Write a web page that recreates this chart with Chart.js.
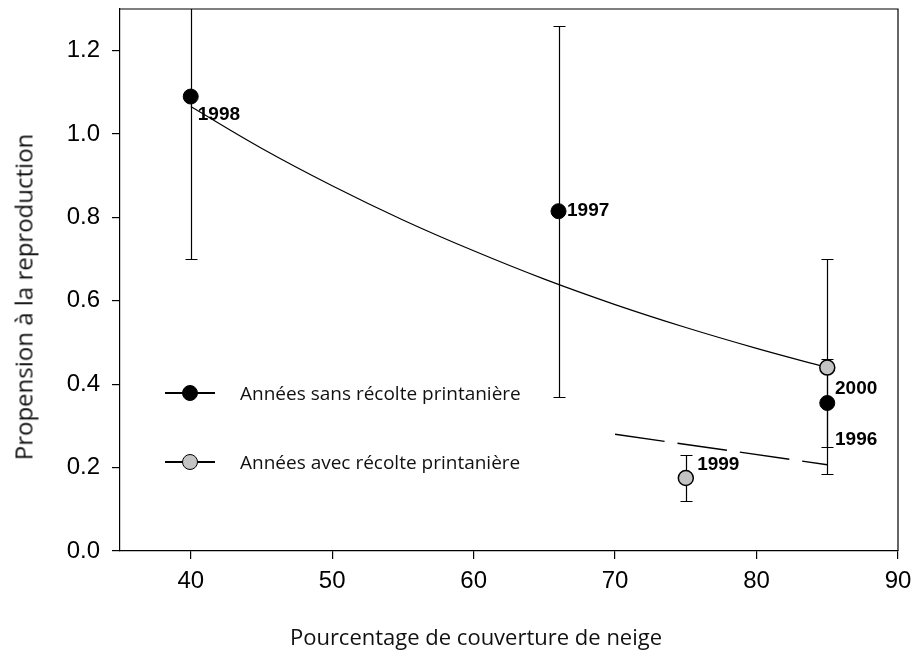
<!DOCTYPE html>
<html><head><meta charset="utf-8">
<script src="https://cdn.jsdelivr.net/npm/chart.js@4"></script>
<style>
html,body{margin:0;padding:0;background:#fff;}
#wrap{position:relative;width:914px;height:653px;overflow:hidden;}
#c{position:absolute;left:0;top:0;}
.ttl{position:absolute;font-family:"Open Sans",sans-serif;color:#111;white-space:nowrap;}
#xt{left:476px;top:636px;font-size:22px;transform:translate(-50%,-50%);}
#yt{left:23px;top:297px;font-size:24px;transform:translate(-50%,-50%) rotate(-90deg);}
.lg{position:absolute;left:165px;height:20px;display:flex;align-items:center;font-family:"Open Sans",sans-serif;font-size:19px;color:#111;white-space:nowrap;}
.sym{position:relative;width:50px;height:20px;margin-right:25px;}
.sym .ln{position:absolute;left:0;right:0;top:9px;height:1.5px;background:#000;}
.sym .dot{position:absolute;left:17px;top:2px;width:16px;height:16px;border-radius:50%;box-sizing:border-box;}
</style></head>
<body>
<div id="wrap">
<canvas id="c" width="914" height="653"></canvas>
<div class="ttl" id="xt">Pourcentage de couverture de neige</div>
<div class="ttl" id="yt">Propension à la reproduction</div>
<div class="lg" style="top:383px"><div class="sym"><div class="ln"></div><div class="dot" style="background:#000;border:1.5px solid #000"></div></div><span>Années sans récolte printanière</span></div>
<div class="lg" style="top:452px"><div class="sym"><div class="ln"></div><div class="dot" style="background:#c4c4c4;border:1.5px solid #000"></div></div><span>Années avec récolte printanière</span></div>
</div>
<script>
// Data
const xTicks = [40, 50, 60, 70, 80, 90];
const yTicks = [0.0, 0.2, 0.4, 0.6, 0.8, 1.0, 1.2];

const sansX = [40, 66, 85];
const sansY = [1.09, 0.815, 0.355];
const avecX = [75, 85];
const avecY = [0.175, 0.44];

const errX  = [40, 66, 85, 75, 85];
const errLo = [0.70, 0.37, 0.25, 0.12, 0.185];
const errHi = [1.48, 1.26, 0.46, 0.23, 0.70];

const fitX = [40, 45, 50, 55, 60, 65, 70, 75, 80, 85];
const fitY = [1.066, 0.966, 0.876, 0.794, 0.720, 0.652, 0.591, 0.536, 0.486, 0.440];
const dashX = [70, 85];
const dashY = [0.28, 0.207];

const yearText = ['1998', '1997', '2000', '1996', '1999'];
const yearX = [40.5, 66.6, 85.55, 85.55, 75.8];
const yearY = [1.047, 0.817, 0.39, 0.266, 0.208];

const pts = (xs, ys) => xs.map((v, i) => ({x: v, y: ys[i]}));

const errPlugin = {
  id: 'errbars',
  beforeDatasetsDraw(chart) {
    const {ctx, chartArea: a, scales: {x, y}} = chart;
    ctx.save();
    ctx.beginPath(); ctx.rect(a.left, a.top, a.right - a.left, a.bottom - a.top); ctx.clip();
    ctx.strokeStyle = '#000'; ctx.lineWidth = 1.2;
    errX.forEach((v, i) => {
      const px = Math.round(x.getPixelForValue(v)) + 0.5;
      const t = Math.round(y.getPixelForValue(errHi[i])) + 0.5;
      const b = Math.round(y.getPixelForValue(errLo[i])) + 0.5;
      ctx.beginPath();
      ctx.moveTo(px, t); ctx.lineTo(px, b);
      ctx.moveTo(px - 6, t); ctx.lineTo(px + 6, t);
      ctx.moveTo(px - 6, b); ctx.lineTo(px + 6, b);
      ctx.stroke();
    });
    ctx.restore();
    ctx.save();
    ctx.strokeStyle = '#000'; ctx.lineWidth = 1.2;
    ctx.beginPath();
    ctx.moveTo(a.left, a.top); ctx.lineTo(a.right, a.top); ctx.lineTo(a.right, a.bottom);
    ctx.stroke();
    ctx.restore();
  },
  afterDatasetsDraw(chart) {
    const {ctx, scales: {x, y}} = chart;
    ctx.save();
    ctx.fillStyle = '#000';
    ctx.font = 'bold 19px "Liberation Sans", Arial, sans-serif';
    ctx.textAlign = 'left'; ctx.textBaseline = 'middle';
    yearText.forEach((t, i) => ctx.fillText(t, x.getPixelForValue(yearX[i]), y.getPixelForValue(yearY[i])));
    ctx.restore();
  }
};

const axisCommon = {
  grid: {display: true, drawOnChartArea: false, drawTicks: true, tickLength: 8, color: '#000', lineWidth: 1.2},
  border: {display: true, color: '#000', width: 1.2},
};

new Chart(document.getElementById('c'), {
  type: 'scatter',
  data: {
    datasets: [
      {data: pts(fitX, fitY), showLine: true, borderColor: '#000', borderWidth: 1.2, pointRadius: 0, tension: 0.4, order: 3},
      {data: pts(dashX, dashY), showLine: true, borderColor: '#000', borderWidth: 1.4, borderDash: [50, 13], pointRadius: 0, order: 3},
      {data: pts(sansX, sansY), showLine: false, pointRadius: 7.5, pointBackgroundColor: '#000', pointBorderColor: '#000', pointBorderWidth: 1, order: 1},
      {data: pts(avecX, avecY), showLine: false, pointRadius: 7.5, pointBackgroundColor: '#c4c4c4', pointBorderColor: '#000', pointBorderWidth: 1.5, order: 1}
    ]
  },
  options: {
    responsive: false, animation: false, devicePixelRatio: 1,
    layout: {padding: {left: 0, right: 16, top: 8, bottom: 0}},
    plugins: {legend: {display: false}, tooltip: {enabled: false}},
    scales: {
      x: {
        type: 'linear', min: 35, max: 90, ...axisCommon,
        afterBuildTicks: s => { s.ticks = xTicks.map(v => ({value: v})); },
        afterFit: s => { s.height = 102; s.paddingLeft = 0; s.paddingRight = 0; },
        ticks: {color: '#000', padding: 8, font: {family: '"Liberation Sans", Arial', size: 24}, callback: v => String(v)}
      },
      y: {
        type: 'linear', min: 0, max: 1.3, ...axisCommon,
        afterBuildTicks: s => { s.ticks = yTicks.map(v => ({value: v})); },
        afterFit: s => { s.width = 120; s.paddingTop = 0; s.paddingBottom = 0; },
        ticks: {color: '#000', padding: 12, font: {family: '"Liberation Sans", Arial', size: 24}, callback: v => Number(v).toFixed(1)}
      }
    }
  },
  plugins: [errPlugin]
});
</script>
</body></html>
